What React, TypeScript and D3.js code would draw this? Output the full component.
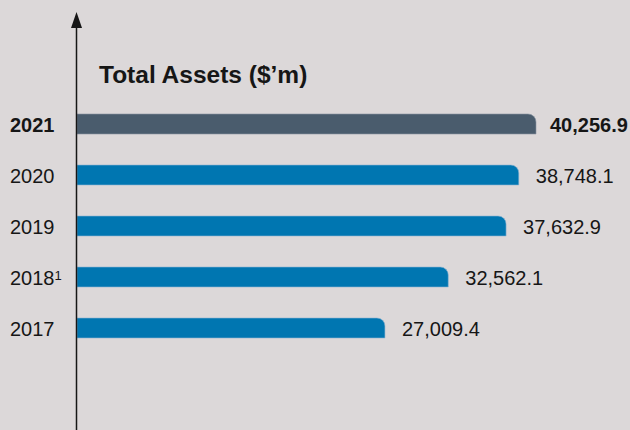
import React, { useEffect, useRef } from 'react';
import * as d3 from 'd3';

// data
const years = ['2021', '2020', '2019', '2018', '2017'];
const totalAssets = [40256.9, 38748.1, 37632.9, 32562.1, 27009.4];
const valueLabels = ['40,256.9', '38,748.1', '37,632.9', '32,562.1', '27,009.4'];
const footnotes = ['', '', '', '1', ''];
const title = 'Total Assets ($\u2019m)';

const App = () => {
  const svgRef = useRef<SVGSVGElement>(null);

  useEffect(() => {
    const width = 630;
    const height = 430;
    const axisX = 76.5;
    const font = '"Liberation Sans", Arial, Helvetica, sans-serif';
    const ink = '#161616';

    const svg = d3.select(svgRef.current)
      .attr('width', width)
      .attr('height', height);

    svg.selectAll('*').remove(); // Clear any previous chart

    svg.append('rect')
      .attr('width', width)
      .attr('height', height)
      .attr('fill', '#dcd8d9');

    const x = d3.scaleLinear()
      .domain([0, d3.max(totalAssets) as number])
      .range([77, 536]);

    const y = d3.scaleBand()
      .domain(years)
      .range([114, 338])
      .paddingInner(31 / 51)
      .paddingOuter(0);

    const bh = y.bandwidth();
    const r = 8;

    // bar with rounded top-right corner only
    const barPath = (v: number, yr: string) => {
      const x0 = x(0);
      const x1 = x(v);
      const y0 = y(yr) as number;
      const y1 = y0 + bh;
      const p = d3.path();
      p.moveTo(x0, y0);
      p.lineTo(x1 - r, y0);
      p.arcTo(x1, y0, x1, y0 + r, r);
      p.lineTo(x1, y1);
      p.lineTo(x0, y1);
      p.closePath();
      return p.toString();
    };

    svg.append('g')
      .selectAll('path')
      .data(years)
      .enter().append('path')
      .attr('d', (d, i) => barPath(totalAssets[i], d))
      .attr('fill', (d, i) => (i === 0 ? '#4a5c6d' : '#0076b1'))
      .attr('stroke', (d, i) => (i === 0 ? '#8996a2' : '#8fb6d3'))
      .attr('stroke-width', 0.6);

    // year labels
    const yearText = svg.append('g')
      .selectAll('text')
      .data(years)
      .enter().append('text')
      .attr('x', 10)
      .attr('y', d => (y(d) as number) + bh / 2 + 8)
      .attr('font-family', font)
      .attr('font-size', 20)
      .attr('font-weight', (d, i) => (i === 0 ? 700 : 400))
      .attr('fill', ink);

    yearText.append('tspan').text(d => d);
    yearText.append('tspan')
      .attr('font-size', 13)
      .attr('dy', -5)
      .text((d, i) => footnotes[i]);

    // value labels
    svg.append('g')
      .selectAll('text')
      .data(years)
      .enter().append('text')
      .attr('x', (d, i) => x(totalAssets[i]) + (i === 0 ? 14 : 17))
      .attr('y', d => (y(d) as number) + bh / 2 + 8)
      .attr('font-family', font)
      .attr('font-size', 20)
      .attr('font-weight', (d, i) => (i === 0 ? 700 : 400))
      .attr('fill', ink)
      .text((d, i) => valueLabels[i]);

    // vertical axis with arrow head
    svg.append('line')
      .attr('x1', axisX)
      .attr('x2', axisX)
      .attr('y1', 26)
      .attr('y2', height)
      .attr('stroke', ink)
      .attr('stroke-width', 1.5);

    svg.append('path')
      .attr('d', `M${axisX},12 L${axisX - 5.5},28 L${axisX + 5.5},28 Z`)
      .attr('fill', ink);

    svg.append('text')
      .attr('x', 99)
      .attr('y', 83)
      .attr('font-family', font)
      .attr('font-size', 24.5)
      .attr('font-weight', 700)
      .attr('fill', ink)
      .text(title);
  }, []);

  return (
    <svg ref={svgRef} style={{ position: 'absolute', left: 0, top: 0, display: 'block' }}></svg>
  );
};

export default App;
